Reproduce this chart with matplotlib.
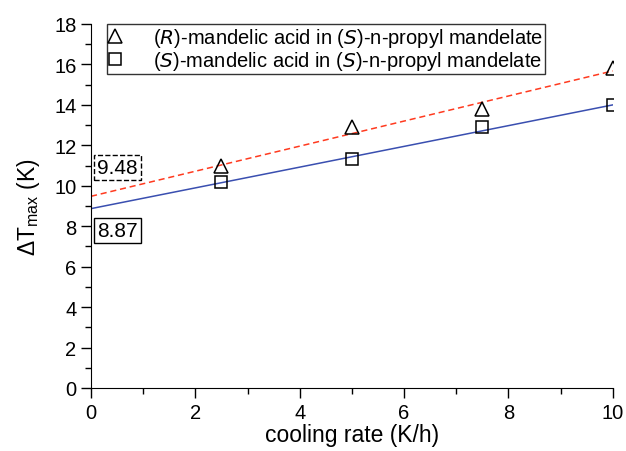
import numpy as np
import matplotlib
matplotlib.use("Agg")
import matplotlib.pyplot as plt
from matplotlib.ticker import MultipleLocator

# data
rate = [2.5, 5.0, 7.5, 10.0]
dt_R = [11.0, 12.9, 13.8, 15.8]   # (R)-mandelic acid, triangles
dt_S = [10.2, 11.3, 12.9, 14.0]   # (S)-mandelic acid, squares

# linear fits (intercept labelled on the chart)
fit_R = (9.48, 0.62)
fit_S = (8.87, 0.513)
fit_x = [0, 10]

plt.rcParams['font.family'] = ['Liberation Sans', 'DejaVu Sans']
plt.rcParams['mathtext.default'] = 'regular'

fig = plt.figure(figsize=(6.26, 4.52), dpi=100)
ax = fig.add_axes([0.1454, 0.1394, 0.8336, 0.8053])

xs = np.array(fit_x, dtype=float)
ax.plot(xs, fit_R[0] + fit_R[1] * xs, ls=(0, (4, 2.5)), color='#ff3a1f', lw=1.1)
ax.plot(xs, fit_S[0] + fit_S[1] * xs, ls='-', color='#3a4fb0', lw=1.1)

ax.plot(rate, dt_R, ls='none', marker='^', ms=10, mfc='none', mec='black', mew=1.1,
        label='$(\\it{R}$)-mandelic acid in ($\\it{S}$)-n-propyl mandelate')
ax.plot(rate, dt_S, ls='none', marker='s', ms=8.5, mfc='none', mec='black', mew=1.1,
        label='($\\it{S}$)-mandelic acid in ($\\it{S}$)-n-propyl mandelate')

ax.text(0.5, 10.9, '%.2f' % fit_R[0], fontsize=15, ha='center', va='center',
        bbox=dict(boxstyle='square,pad=0.15', fc='white', ec='black', ls='--', lw=1))
ax.text(0.5, 7.8, '%.2f' % fit_S[0], fontsize=15, ha='center', va='center',
        bbox=dict(boxstyle='square,pad=0.15', fc='white', ec='black', lw=1))

ax.set_xlim(0, 10)
ax.set_ylim(0, 18)
ax.xaxis.set_major_locator(MultipleLocator(2))
ax.xaxis.set_minor_locator(MultipleLocator(1))
ax.yaxis.set_major_locator(MultipleLocator(2))
ax.yaxis.set_minor_locator(MultipleLocator(1))
ax.spines['top'].set_visible(False)
ax.spines['right'].set_visible(False)
ax.tick_params(which='major', direction='out', length=7, width=1, labelsize=14.5)
ax.tick_params(which='minor', direction='out', length=4, width=1)

ax.set_xlabel('cooling rate (K/h)', fontsize=16.5, labelpad=1)
ax.set_ylabel('ΔT$_{max}$ (K)', fontsize=16.5, labelpad=9)

leg = ax.legend(loc='upper left', bbox_to_anchor=(0.03, 1.0), fontsize=14.5, frameon=True,
                fancybox=False, edgecolor='black', handletextpad=1.6, borderpad=0.1,
                labelspacing=0.0, handlelength=0.6, borderaxespad=0)
leg.get_frame().set_linewidth(1)

fig.savefig('out.png', dpi=100)
